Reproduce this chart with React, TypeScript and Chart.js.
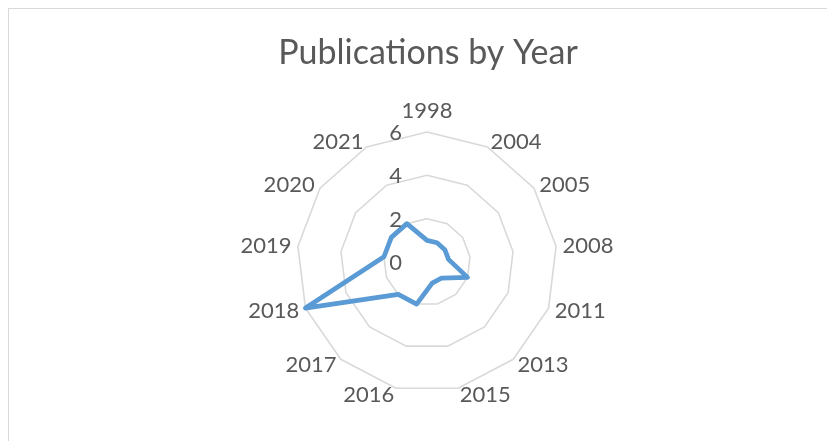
import React, { useEffect, useRef } from "react";
import { Chart, registerables } from "chart.js";

Chart.register(...registerables);

const years = ["1998", "2004", "2005", "2008", "2011", "2013", "2015", "2016", "2017", "2018", "2019", "2020", "2021"];
const publications = [1, 1, 1, 1, 2, 1, 1, 2, 2, 6, 2, 2, 2];
const tickValues = [0, 2, 4, 6];
const chartTitle = "Publications by Year";

const FONT = "Lato, 'Open Sans', sans-serif";
const LABEL_SIZE = 22;
const TITLE_SIZE = 34;
const TEXT_COLOR = "#595959";

// Excel-style text: title, category labels hugging the outer ring, value labels left of the vertical axis
const excelText = {
  id: "excelText",
  afterDraw(chart: any) {
    const s = chart.scales.r;
    const ctx = chart.ctx;
    ctx.save();
    ctx.fillStyle = TEXT_COLOR;
    ctx.textBaseline = "alphabetic";

    // title
    ctx.font = `${TITLE_SIZE}px ${FONT}`;
    ctx.textAlign = "center";
    ctx.fillText(chartTitle, chart.width / 2 + 6, 54.5);

    ctx.font = `${LABEL_SIZE}px ${FONT}`;
    const digitMid = LABEL_SIZE * 0.36;

    // value labels
    ctx.textAlign = "right";
    tickValues.forEach((v) => {
      const d = s.getDistanceFromCenterForValue(v);
      ctx.fillText(String(v), s.xCenter - 25, s.yCenter - d + digitMid);
    });

    // category labels
    const pad = 6.5;
    years.forEach((label, i) => {
      const p = s.getPointPosition(i, s.drawingArea + pad);
      const dx = p.x - s.xCenter;
      const dy = p.y - s.yCenter;
      const len = Math.hypot(dx, dy) || 1;
      const ux = dx / len;
      const uy = dy / len;
      let y = p.y;
      if (Math.abs(ux) < 0.02) {
        ctx.textAlign = "center";
        y = p.y + (uy < 0 ? -LABEL_SIZE * 0.68 : LABEL_SIZE * 0.68);
      } else {
        ctx.textAlign = ux > 0 ? "left" : "right";
      }
      ctx.fillText(label, p.x, y + digitMid);
    });
    ctx.restore();
  },
};

export default function App() {
  const ref = useRef<HTMLCanvasElement | null>(null);
  useEffect(() => {
    if (!ref.current) return;
    const chart = new Chart(ref.current, {
      type: "radar",
      data: {
        labels: years,
        datasets: [
          {
            label: "Publications",
            data: publications,
            borderColor: "#5b9bd5",
            backgroundColor: "transparent",
            borderWidth: 4.75,
            pointRadius: 0,
            fill: false,
            tension: 0,
            borderJoinStyle: "round",
          } as any,
        ],
      },
      options: {
        animation: false,
        responsive: true,
        maintainAspectRatio: false,
        layout: { padding: { left: 288, right: 277, top: 122, bottom: 48 } },
        plugins: {
          legend: { display: false },
          tooltip: { enabled: false },
          title: { display: false },
        },
        scales: {
          r: {
            min: 0,
            max: 6,
            ticks: { stepSize: 2, display: false },
            grid: { color: "#d9d9d9", lineWidth: 1.6 },
            angleLines: { display: false },
            pointLabels: { display: false },
          },
        },
      },
      plugins: [excelText],
    });
    return () => chart.destroy();
  }, []);

  return (
    <div
      style={{
        width: 827,
        height: 433,
        borderTop: "1px solid #d9d9d9",
        borderLeft: "1px solid #d9d9d9",
        boxSizing: "border-box",
        position: "relative",
        background: "#fff",
      }}
    >
      <canvas ref={ref} />
    </div>
  );
}
